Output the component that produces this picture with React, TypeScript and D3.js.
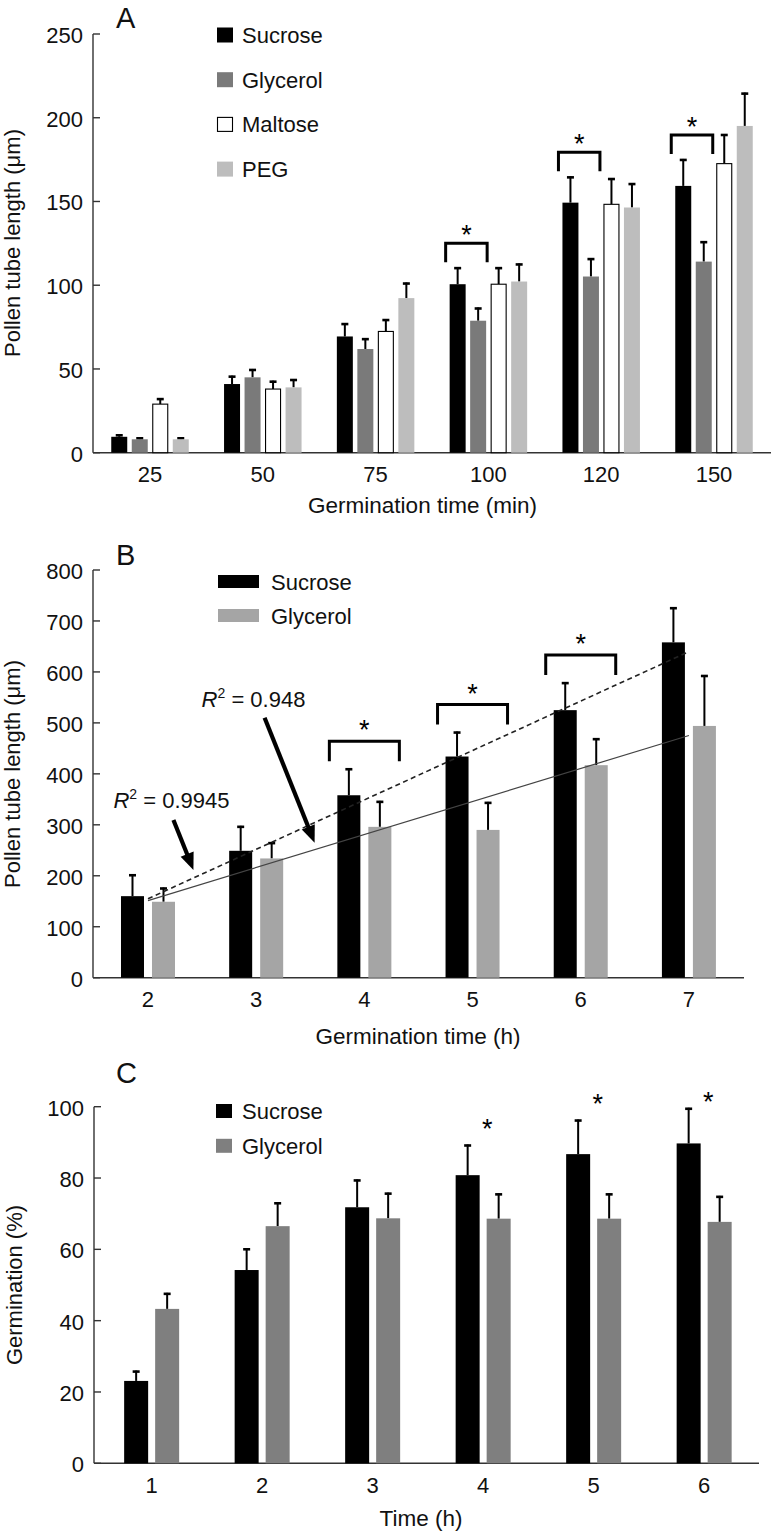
import React from 'react';
import * as d3 from 'd3';

const FONT = "'Liberation Sans', Arial, Helvetica, sans-serif";

// ---------------- Panel A data ----------------
const aCategories = ['25', '50', '75', '100', '120', '150'];
const aSeriesNames = ['Sucrose', 'Glycerol', 'Maltose', 'PEG'];
const aSucrose = [9.5, 41, 69.4, 100.6, 149.3, 159.3];
const aSucroseErr = [1.5, 5, 8, 10.2, 15.7, 16.1];
const aGlycerol = [8, 45, 61.9, 78.8, 105.2, 114.1];
const aGlycerolErr = [1.2, 5, 6.5, 7.9, 11, 12.2];
const aMaltose = [29, 38, 72.4, 100.6, 148.3, 172.6];
const aMaltoseErr = [3.6, 5, 7.4, 10.2, 15.7, 17.7];
const aPEG = [8, 39, 92.3, 102.2, 146.4, 195.1];
const aPEGErr = [1.2, 5, 9.3, 10.8, 14.6, 19.9];
const aYTicks = [0, 50, 100, 150, 200, 250];
const aSignificant = ['100', '120', '150'];

// ---------------- Panel B data ----------------
const bCategories = ['2', '3', '4', '5', '6', '7'];
const bSeriesNames = ['Sucrose', 'Glycerol'];
const bSucrose = [160, 249, 358, 434, 525, 658];
const bSucroseErr = [43, 49, 53, 49, 55, 69];
const bGlycerol = [149, 234, 296, 290, 417, 494];
const bGlycerolErr = [28, 32, 51, 55, 53, 100];
const bYTicks = [0, 100, 200, 300, 400, 500, 600, 700, 800];
const bSignificant = ['4', '5', '6'];
const bR2Labels = ['0.9945', '0.948'];

// ---------------- Panel C data ----------------
const cCategories = ['1', '2', '3', '4', '5', '6'];
const cSeriesNames = ['Sucrose', 'Glycerol'];
const cSucrose = [23.1, 54.2, 71.8, 80.8, 86.7, 89.7];
const cSucroseErr = [2.9, 6.1, 7.8, 8.6, 9.7, 10];
const cGlycerol = [43.3, 66.5, 68.7, 68.6, 68.6, 67.7];
const cGlycerolErr = [4.5, 6.7, 7.2, 7.1, 7.1, 7.3];
const cYTicks = [0, 20, 40, 60, 80, 100];
const cSignificant = ['4', '5', '6'];

type Series = { name: string; values: number[]; errors: number[]; fill: string; stroke?: string };

const AXIS = '#333';

function YAxis({ y, ticks, x, x2 }: any) {
  const [r0, r1] = y.range();
  return (
    <g>
      <line x1={x} x2={x} y1={r0} y2={r1} stroke={AXIS} strokeWidth={1.4} />
      {ticks.map((t: number) => (
        <g key={t}>
          <line x1={x} x2={x + 7} y1={y(t)} y2={y(t)} stroke={AXIS} strokeWidth={1.4} />
          <text x={x - 10} y={y(t) + 9} textAnchor="end" fontSize={22} fontFamily={FONT} fill="#111">
            {t}
          </text>
        </g>
      ))}
      <line x1={x} x2={x2} y1={r0} y2={r0} stroke={AXIS} strokeWidth={1.6} />
    </g>
  );
}

function XLabels({ x, y0, cats }: any) {
  return (
    <g>
      {cats.map((c: string) => (
        <text key={c} x={x(c)! + x.bandwidth() / 2} y={y0 + 29.5} textAnchor="middle" fontSize={22} fontFamily={FONT} fill="#111">
          {c}
        </text>
      ))}
    </g>
  );
}

function Bars({ x, inner, y, series, cats }: any) {
  const w = inner.bandwidth();
  return (
    <g>
      {series.map((s: Series) =>
        s.values.map((v, i) => {
          const cx = x(cats[i])! + x.bandwidth() / 2 + inner(s.name)!;
          const top = y(v);
          const base = y(0);
          const et = y(v + s.errors[i]);
          const mid = cx + w / 2;
          return (
            <g key={s.name + i}>
              <line x1={mid} x2={mid} y1={top} y2={et} stroke="#000" strokeWidth={2} />
              <line x1={mid - 3.5} x2={mid + 3.5} y1={et + 1} y2={et + 1} stroke="#000" strokeWidth={2.6} />
              <rect
                x={s.stroke ? cx + 0.5 : cx}
                y={top}
                width={s.stroke ? w - 1 : w}
                height={base - top}
                fill={s.fill}
                stroke={s.stroke || 'none'}
                strokeWidth={s.stroke ? 1.1 : 0}
              />
            </g>
          );
        })
      )}
    </g>
  );
}

function Star({ x, cy }: any) {
  return (
    <text x={x} y={cy + 15} textAnchor="middle" fontSize={27} fontFamily={FONT} fill="#000">
      *
    </text>
  );
}

function Bracket({ xl, xr, bottom, height }: any) {
  const top = bottom - height;
  return (
    <path
      d={`M${xl},${bottom} L${xl},${top} L${xr},${top} L${xr},${bottom}`}
      fill="none"
      stroke="#000"
      strokeWidth={3}
    />
  );
}

function Arrow({ x1, y1, x2, y2 }: any) {
  const dx = x2 - x1;
  const dy = y2 - y1;
  const len = Math.sqrt(dx * dx + dy * dy);
  const ux = dx / len;
  const uy = dy / len;
  const hl = 17;
  const hw = 7;
  const bx = x2 - ux * hl;
  const by = y2 - uy * hl;
  const px = -uy;
  const py = ux;
  return (
    <g>
      <line x1={x1} y1={y1} x2={bx + ux * 2} y2={by + uy * 2} stroke="#000" strokeWidth={4.2} />
      <polygon points={`${x2},${y2} ${bx + px * hw},${by + py * hw} ${bx - px * hw},${by - py * hw}`} fill="#000" />
    </g>
  );
}

function regression(values: number[]) {
  const xs = values.map((_, i) => i + 1);
  const mx = d3.mean(xs)!;
  const my = d3.mean(values)!;
  const sxy = d3.sum(xs.map((xv, i) => (xv - mx) * (values[i] - my)));
  const sxx = d3.sum(xs.map((xv) => (xv - mx) * (xv - mx)));
  const slope = sxy / sxx;
  return { slope, intercept: my - slope * mx };
}

function PanelA() {
  const x = d3.scaleBand<string>().domain(aCategories).range([93.6, 770.4]);
  const inner = d3.scaleBand<string>().domain(aSeriesNames).range([-38.75, 38.75]).paddingInner(0.22);
  const y = d3.scaleLinear().domain([0, 250]).range([452.7, 34]);
  const series: Series[] = [
    { name: 'Sucrose', values: aSucrose, errors: aSucroseErr, fill: '#000' },
    { name: 'Glycerol', values: aGlycerol, errors: aGlycerolErr, fill: '#7a7a7a' },
    { name: 'Maltose', values: aMaltose, errors: aMaltoseErr, fill: '#fff', stroke: '#000' },
    { name: 'PEG', values: aPEG, errors: aPEGErr, fill: '#bdbdbd' },
  ];
  return (
    <g>
      <text x={116} y={28} fontSize={29} fontFamily={FONT} fill="#111">A</text>
      <YAxis y={y} ticks={aYTicks} x={93} x2={771} />
      <Bars x={x} inner={inner} y={y} series={series} cats={aCategories} />
      <XLabels x={x} y0={452.7} cats={aCategories} />
      {aSignificant.map((c) => {
        const i = aCategories.indexOf(c);
        const c0 = x(c)! + x.bandwidth() / 2;
        const xl = c0 + inner('Sucrose')! - 4;
        const xr = c0 + inner('Glycerol')! + inner.bandwidth() + 1;
        const maxTop = Math.max(aSucrose[i] + aSucroseErr[i], aGlycerol[i] + aGlycerolErr[i]);
        const bottom = y(maxTop) - 5;
        return (
          <g key={c}>
            <Bracket xl={xl} xr={xr} bottom={bottom} height={19} />
            <Star x={(xl + xr) / 2} cy={bottom - 19 - 14} />
          </g>
        );
      })}
      {series.map((s, i) => (
        <g key={s.name}>
          <rect
            x={s.stroke ? 217.5 : 217}
            y={27.5 + i * 44.7 + (s.stroke ? 0.5 : 0)}
            width={s.stroke ? 15 : 16}
            height={s.stroke ? 14 : 15}
            fill={s.fill}
            stroke={s.stroke || 'none'}
            strokeWidth={1.1}
          />
          <text x={242} y={35 + i * 44.7 + 8} fontSize={22} fontFamily={FONT} fill="#111">{s.name}</text>
        </g>
      ))}
      <text
        transform={`translate(20,243) rotate(-90)`}
        textAnchor="middle"
        fontSize={22}
        fontFamily={FONT}
        fill="#111"
      >
        Pollen tube length (μm)
      </text>
      <text x={422.5} y={512.8} textAnchor="middle" fontSize={22.5} fontFamily={FONT} fill="#111">
        Germination time (min)
      </text>
    </g>
  );
}

function PanelB() {
  const x = d3.scaleBand<string>().domain(bCategories).range([93.9, 743]);
  const inner = d3.scaleBand<string>().domain(bSeriesNames).range([-27, 27]).paddingInner(0.258);
  const y = d3.scaleLinear().domain([0, 800]).range([977.7, 570]);
  const series: Series[] = [
    { name: 'Sucrose', values: bSucrose, errors: bSucroseErr, fill: '#000' },
    { name: 'Glycerol', values: bGlycerol, errors: bGlycerolErr, fill: '#a5a5a5' },
  ];
  const hourX = d3
    .scaleLinear()
    .domain([+bCategories[0], +bCategories[bCategories.length - 1]])
    .range([
      x(bCategories[0])! + x.bandwidth() / 2,
      x(bCategories[bCategories.length - 1])! + x.bandwidth() / 2,
    ]);
  const regS = regression(bSucrose);
  const regG = regression(bGlycerol);
  const h0 = +bCategories[0];
  const lineVal = (r: any, h: number) => r.intercept + r.slope * (h - h0 + 1);
  const hEnd = +bCategories[bCategories.length - 1];
  const tipS = { h: 2.42 };
  const tipG = { h: 3.54 };
  const tsx = hourX(tipS.h);
  const tsy = y(lineVal(regS, tipS.h)) - 8;
  const tgx = hourX(tipG.h);
  const tgy = y(lineVal(regG, tipG.h)) - 7;
  return (
    <g>
      <text x={116} y={565} fontSize={29} fontFamily={FONT} fill="#111">B</text>
      <YAxis y={y} ticks={bYTicks} x={93} x2={744} />
      <Bars x={x} inner={inner} y={y} series={series} cats={bCategories} />
      <line
        x1={hourX(h0)}
        y1={y(lineVal(regS, h0))}
        x2={hourX(hEnd)}
        y2={y(lineVal(regS, hEnd))}
        stroke="#222"
        strokeWidth={1.6}
        strokeDasharray="5,3.5"
      />
      <line
        x1={hourX(h0)}
        y1={y(lineVal(regG, h0))}
        x2={hourX(hEnd)}
        y2={y(lineVal(regG, hEnd))}
        stroke="#444"
        strokeWidth={1.2}
      />
      <XLabels x={x} y0={977.7} cats={bCategories} />
      {bSignificant.map((c) => {
        const i = bCategories.indexOf(c);
        const c0 = x(c)! + x.bandwidth() / 2;
        const bottom = y(bSucrose[i] + bSucroseErr[i]) - 7;
        return (
          <g key={c}>
            <Bracket xl={c0 - 35} xr={c0 + 35} bottom={bottom} height={20} />
            <Star x={c0} cy={bottom - 20 - 17} />
          </g>
        );
      })}
      <Arrow x1={tsx - 20} y1={tsy - 50} x2={tsx} y2={tsy} />
      <Arrow x1={tgx - 50} y1={tgy - 125} x2={tgx} y2={tgy} />
      <text x={tsx - 80} y={tsy - 62} fontSize={22} fontFamily={FONT} fill="#111">
        <tspan fontStyle="italic">R</tspan>
        <tspan fontSize={14} dy={-9}>2</tspan>
        <tspan dy={9}>{` = ${bR2Labels[0]}`}</tspan>
      </text>
      <text x={tgx - 113} y={tgy - 136} fontSize={22} fontFamily={FONT} fill="#111">
        <tspan fontStyle="italic">R</tspan>
        <tspan fontSize={14} dy={-9}>2</tspan>
        <tspan dy={9}>{` = ${bR2Labels[1]}`}</tspan>
      </text>
      {series.map((s, i) => (
        <g key={s.name}>
          <rect x={218} y={575 + i * 34} width={41} height={13} fill={s.fill} />
          <text x={271} y={581.5 + i * 34 + 8} fontSize={22} fontFamily={FONT} fill="#111">{s.name}</text>
        </g>
      ))}
      <text
        transform={`translate(20,774) rotate(-90)`}
        textAnchor="middle"
        fontSize={22}
        fontFamily={FONT}
        fill="#111"
      >
        Pollen tube length (μm)
      </text>
      <text x={418} y={1044} textAnchor="middle" fontSize={22.5} fontFamily={FONT} fill="#111">
        Germination time (h)
      </text>
    </g>
  );
}

function PanelC() {
  const x = d3.scaleBand<string>().domain(cCategories).range([96.4, 759.4]);
  const inner = d3.scaleBand<string>().domain(cSeriesNames).range([-27.5, 27.5]).paddingInner(0.226);
  const y = d3.scaleLinear().domain([0, 100]).range([1463.3, 1106.7]);
  const series: Series[] = [
    { name: 'Sucrose', values: cSucrose, errors: cSucroseErr, fill: '#000' },
    { name: 'Glycerol', values: cGlycerol, errors: cGlycerolErr, fill: '#7f7f7f' },
  ];
  return (
    <g>
      <text x={116} y={1083} fontSize={29} fontFamily={FONT} fill="#111">C</text>
      <YAxis y={y} ticks={cYTicks} x={94} x2={759} />
      <Bars x={x} inner={inner} y={y} series={series} cats={cCategories} />
      <XLabels x={x} y0={1463.3} cats={cCategories} />
      {cSignificant.map((c) => {
        const i = cCategories.indexOf(c);
        const c0 = x(c)! + x.bandwidth() / 2;
        const level = Math.min(cSucrose[i] + cSucroseErr[i] + 6, 103);
        return <Star key={c} x={c0 + 4} cy={y(level)} />;
      })}
      {series.map((s, i) => (
        <g key={s.name}>
          <rect x={216} y={1104 + i * 34.8} width={16} height={14} fill={s.fill} />
          <text x={242} y={1111 + i * 34.8 + 8} fontSize={22} fontFamily={FONT} fill="#111">{s.name}</text>
        </g>
      ))}
      <text
        transform={`translate(21.5,1285) rotate(-90)`}
        textAnchor="middle"
        fontSize={22}
        fontFamily={FONT}
        fill="#111"
      >
        Germination (%)
      </text>
      <text x={421} y={1526} textAnchor="middle" fontSize={22.5} fontFamily={FONT} fill="#111">
        Time (h)
      </text>
    </g>
  );
}

export default function App() {
  return (
    <svg
      width={774}
      height={1533}
      viewBox="0 0 774 1533"
      style={{ position: 'absolute', left: 0, top: 0, background: '#fff', display: 'block' }}
    >
      <rect x={0} y={0} width={774} height={1533} fill="#fff" />
      <PanelA />
      <PanelB />
      <PanelC />
    </svg>
  );
}
